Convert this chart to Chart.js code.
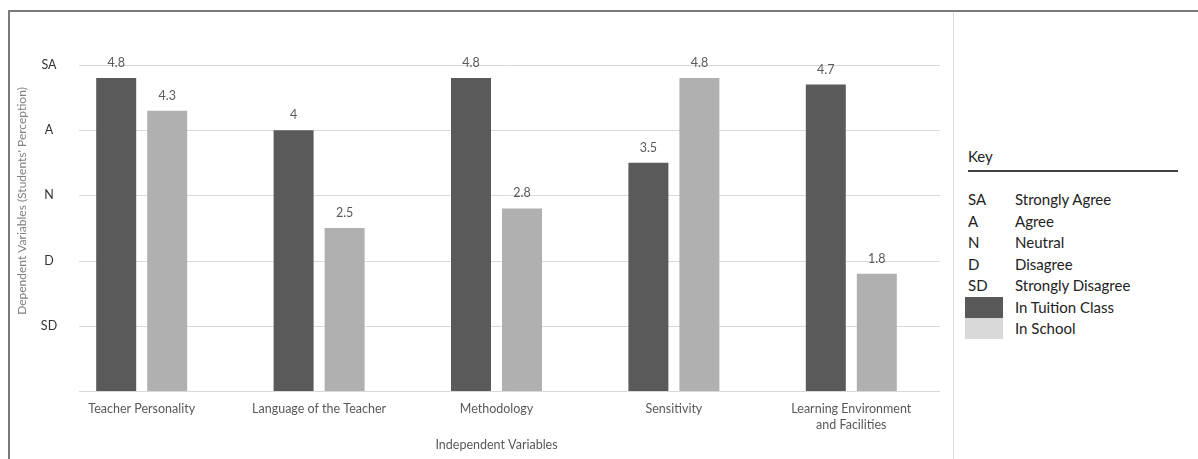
<!DOCTYPE html>
<html>
<head>
<meta charset="utf-8">
<script src="https://cdn.jsdelivr.net/npm/chart.js@4"></script>
<style>
  body { margin: 0; background: #fff; font-family: Lato, 'Liberation Sans', sans-serif; }
  #frame { position: absolute; left: 8px; top: 10px; width: 1190px; height: 449px;
           border-top: 2px solid #7a7a7a; border-left: 2px solid #7a7a7a; }
  #divider { position: absolute; left: 953px; top: 12px; width: 1px; height: 447px; background: #dcdcdc; }
  #wrap { position: absolute; left: 10px; top: 12px; width: 943px; height: 447px; }
  #key { position: absolute; left: 968px; top: 146px; width: 210px; color: #222; font-size: 15px; }
  #key .title { height: 24px; line-height: 20px; border-bottom: 2px solid #404040; }
  #key .row { position: relative; height: 21.5px; line-height: 21.5px; }
  #key .ab { position: absolute; left: 0; }
  #key .tx { position: absolute; left: 47px; }
  #key .sw { position: absolute; left: -3px; top: 0; width: 38px; height: 21px; }
</style>
</head>
<body>
<div id="frame"></div>
<div id="divider"></div>
<div id="wrap"><canvas id="perceptionChart"></canvas></div>
<div id="key">
  <div class="title">Key</div>
  <div style="height:17px"></div>
  <div id="keyRows"></div>
</div>
<script>
const categories = ['Teacher Personality', 'Language of the Teacher', 'Methodology', 'Sensitivity',
                    ['Learning Environment', 'and Facilities']];
const tuitionClass = [4.8, 4, 4.8, 3.5, 4.7];
const inSchool = [4.3, 2.5, 2.8, 4.8, 1.8];
const yTickLabels = ['', 'SD', 'D', 'N', 'A', 'SA'];
const keyAbbr = ['SA', 'A', 'N', 'D', 'SD'];
const keyText = ['Strongly Agree', 'Agree', 'Neutral', 'Disagree', 'Strongly Disagree'];

const darkGrey = '#5a5a5a';
const lightGrey = '#b0b0b0';

// key panel on the right
const keyRows = document.getElementById('keyRows');
keyAbbr.forEach((a, i) => {
    keyRows.innerHTML += '<div class="row"><span class="ab">' + a + '</span><span class="tx">' + keyText[i] + '</span></div>';
});
keyRows.innerHTML += '<div class="row"><span class="sw" style="background:#595959"></span><span class="tx">In Tuition Class</span></div>';
keyRows.innerHTML += '<div class="row"><span class="sw" style="background:#d9d9d9"></span><span class="tx">In School</span></div>';

// gridlines start a bit right of the plot edge, like the original
const gridPlugin = {
    id: 'grid',
    beforeDatasetsDraw(chart) {
        const { ctx, chartArea, scales } = chart;
        ctx.save();
        ctx.strokeStyle = '#d9d9d9';
        ctx.lineWidth = 1;
        for (let v = 0; v <= 5; v++) {
            const y = Math.round(scales.y.getPixelForValue(v)) + 0.5;
            ctx.beginPath();
            ctx.moveTo(chartArea.left + 26, y);
            ctx.lineTo(chartArea.right, y);
            ctx.stroke();
        }
        ctx.restore();
    }
};

const labelPlugin = {
    id: 'barLabels',
    afterDatasetsDraw(chart) {
        const { ctx, scales } = chart;
        const a = chart.chartArea;
        ctx.save();
        ctx.font = '12.5px Lato';
        ctx.fillStyle = '#595959';
        ctx.textAlign = 'center';
        ctx.textBaseline = 'middle';
        chart.data.datasets.forEach((ds, i) => {
            chart.getDatasetMeta(i).data.forEach((bar, j) => {
                ctx.fillText(String(ds.data[j]), bar.x, bar.y - 15);
            });
        });
        // y tick labels (they sit partly over the plot edge)
        ctx.fillStyle = '#333';
        ctx.font = '12.5px Lato';
        yTickLabels.forEach((t, v) => {
            ctx.fillText(t, a.left - 4, scales.y.getPixelForValue(v));
        });
        // y axis title
        ctx.translate(12, (a.top + a.bottom) / 2 - 27);
        ctx.rotate(-Math.PI / 2);
        ctx.fillStyle = '#7f7f7f';
        ctx.font = '12px Lato';
        ctx.fillText("Dependent Variables (Students' Perception)", 0, 0);
        ctx.restore();
    }
};

const ctx = document.getElementById('perceptionChart').getContext('2d');
const perceptionChart = new Chart(ctx, {
    type: 'bar',
    data: {
        labels: categories,
        datasets: [
            {
                label: 'In Tuition Class',
                data: tuitionClass,
                backgroundColor: darkGrey,
                categoryPercentage: 0.575,
                barPercentage: 0.784
            },
            {
                label: 'In School',
                data: inSchool,
                backgroundColor: lightGrey,
                categoryPercentage: 0.575,
                barPercentage: 0.784
            }
        ]
    },
    options: {
        responsive: true,
        maintainAspectRatio: false,
        animation: false,
        layout: { padding: { top: 53, right: 13, left: 0, bottom: 0 } },
        plugins: {
            legend: { display: false },
            tooltip: { enabled: false }
        },
        scales: {
            x: {
                grid: { display: false, drawTicks: false },
                border: { display: false },
                ticks: { color: '#595959', font: { family: 'Lato', size: 12.5, lineHeight: 1.3 }, padding: 10, maxRotation: 0 },
                title: { display: true, text: 'Independent Variables', color: '#595959',
                         font: { family: 'Lato', size: 12.5 }, padding: { top: 4, bottom: 7 } },
                afterFit(scale) { scale.height = 68; }
            },
            y: {
                min: 0,
                max: 5,
                grid: { display: false, drawTicks: false },
                border: { display: false },
                ticks: { stepSize: 1, display: false },
                afterFit(scale) { scale.width = 43; }
            }
        }
    },
    plugins: [gridPlugin, labelPlugin]
});
</script>
</body>
</html>
